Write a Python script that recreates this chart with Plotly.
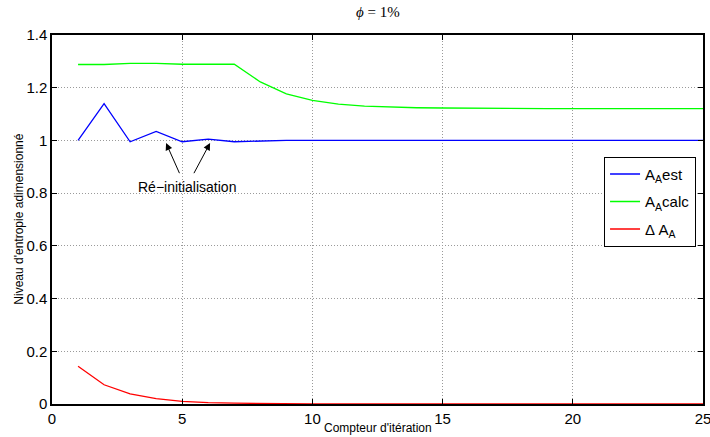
import plotly.graph_objects as go

iterations = list(range(1, 26))
a_est = [1.0, 1.140, 0.995, 1.034, 0.995, 1.005, 0.995, 0.998, 1.0, 1.0,
         1.0, 1.0, 1.0, 1.0, 1.0, 1.0, 1.0, 1.0, 1.0, 1.0, 1.0, 1.0, 1.0, 1.0, 1.0]
a_calc = [1.288, 1.288, 1.292, 1.292, 1.289, 1.289, 1.289, 1.222, 1.177, 1.152,
          1.138, 1.130, 1.126, 1.124, 1.123, 1.122, 1.121, 1.121, 1.121, 1.121,
          1.121, 1.121, 1.121, 1.121, 1.121]
delta_a = [0.143, 0.073, 0.038, 0.020, 0.010, 0.005, 0.003, 0.0015, 0.001, 0.0005,
           0.0, 0.0, 0.0, 0.0, 0.0, 0.0, 0.0, 0.0, 0.0, 0.0, 0.0, 0.0, 0.0, 0.0, 0.0]
x_ticks = [0, 5, 10, 15, 20, 25]
y_ticks = [0, 0.2, 0.4, 0.6, 0.8, 1, 1.2, 1.4]
y_tick_text = ["0", "0.2", "0.4", "0.6", "0.8", "1", "1.2", "1.4"]

fig = go.Figure()
fig.add_trace(go.Scatter(x=iterations, y=a_est, mode="lines", name="A<sub>A</sub>est",
                         legendgroup="g1", line=dict(color="#0000ff", width=1.3)))
fig.add_trace(go.Scatter(x=iterations, y=a_calc, mode="lines", name="A<sub>A</sub>calc",
                         legendgroup="g2", line=dict(color="#00ff00", width=1.3)))
fig.add_trace(go.Scatter(x=iterations, y=delta_a, mode="lines", name="Δ A<sub>A</sub>",
                         legendgroup="g3", line=dict(color="#ff0000", width=1.3)))

axis_common = dict(showline=True, linecolor="black", linewidth=1.5, mirror="ticks",
                   ticks="inside", ticklen=5, tickcolor="black", automargin=False,
                   ticklabeloverflow="allow",
                   showgrid=True, gridcolor="#9a9a9a", griddash="1px,2px", gridwidth=1,
                   zeroline=False, tickfont=dict(family="Liberation Sans", size=15, color="black"))

fig.update_layout(
    width=710, height=437,
    margin=dict(l=52, r=7, t=35, b=33),
    paper_bgcolor="white", plot_bgcolor="white",
    xaxis=dict(range=[0, 25], tickvals=x_ticks, **axis_common),
    yaxis=dict(range=[0, 1.4], tickvals=y_ticks, ticktext=y_tick_text, **axis_common),
    legend=dict(x=0.848, y=0.67, xanchor="left", yanchor="top",
                bgcolor="white", bordercolor="black", borderwidth=1,
                font=dict(family="Liberation Sans", size=15, color="black"),
                tracegroupgap=5, itemwidth=30),
    showlegend=True,
)

# Titles
fig.add_annotation(x=0.5, y=1.062, xref="paper", yref="paper", text="<i>ϕ</i> = 1%",
                   xanchor="center", yanchor="middle", showarrow=False,
                   font=dict(family="Liberation Serif", size=15, color="black"))
fig.add_annotation(x=0.5, y=-0.065, xref="paper", yref="paper", text="Compteur d'itération",
                   xanchor="center", yanchor="middle", showarrow=False,
                   font=dict(family="Liberation Sans", size=12, color="black"))
fig.add_annotation(x=-0.052, y=0.5, xref="paper", yref="paper", text="Niveau d'entropie adimensionné",
                   xanchor="center", yanchor="middle", textangle=-90, showarrow=False,
                   font=dict(family="Liberation Sans", size=12, color="black"))

# Arrows
fig.add_annotation(x=4.38, y=0.99, ax=4.92, ay=0.87, xref="x", yref="y", axref="x", ayref="y",
                   text="", showarrow=True, arrowhead=2, arrowsize=1.4, arrowwidth=1, arrowcolor="black")
fig.add_annotation(x=6.07, y=0.99, ax=5.42, ay=0.87, xref="x", yref="y", axref="x", ayref="y",
                   text="", showarrow=True, arrowhead=2, arrowsize=1.4, arrowwidth=1, arrowcolor="black")
fig.add_annotation(x=5.18, y=0.822, xref="x", yref="y", text="Ré−initialisation", showarrow=False,
                   font=dict(family="Liberation Sans", size=14, color="black"))

fig.write_html("out.html", config={"displayModeBar": False},
               post_script="document.body.style.margin='0';document.body.style.overflow='hidden';")
